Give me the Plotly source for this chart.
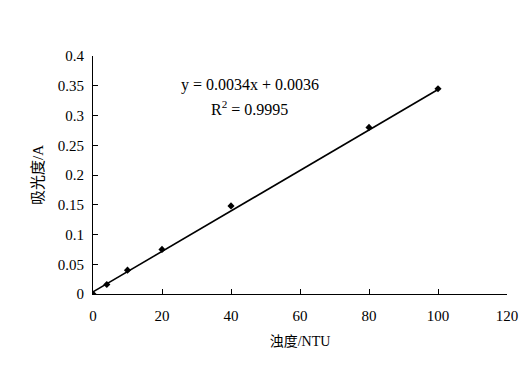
import plotly.graph_objects as go

turbidity = [0, 4, 10, 20, 40, 80, 100]
absorbance = [0.0, 0.016, 0.040, 0.075, 0.148, 0.280, 0.345]
slope = 0.0034
intercept = 0.0036
r2 = 0.9995
x_ticks = [0, 20, 40, 60, 80, 100, 120]
y_ticks = [0, 0.05, 0.1, 0.15, 0.2, 0.25, 0.3, 0.35, 0.4]

font_fam = "Liberation Serif, Noto Sans CJK SC, serif"

fit_x = [min(turbidity), max(turbidity)]
fit_y = [slope * v + intercept for v in fit_x]

fig = go.Figure()
fig.add_trace(go.Scatter(x=fit_x, y=fit_y, mode="lines",
                         line=dict(color="black", width=1.6), showlegend=False, hoverinfo="skip"))
fig.add_trace(go.Scatter(x=turbidity, y=absorbance, mode="markers",
                         marker=dict(symbol="diamond", size=5.5, color="black"),
                         showlegend=False))

fig.add_annotation(x=0.379, y=0.878, xref="paper", yref="paper",
                   xanchor="center", yanchor="middle",
                   text=f"y = {slope}x + {intercept}",
                   showarrow=False, font=dict(family=font_fam, size=16, color="black"))
fig.add_annotation(x=0.377, y=0.782, xref="paper", yref="paper",
                   xanchor="center", yanchor="middle",
                   text=f"R<sup>2</sup> = {r2}",
                   showarrow=False, font=dict(family=font_fam, size=16, color="black"))

fig.update_layout(
    width=529, height=379,
    margin=dict(l=85, r=30, t=48, b=93),
    paper_bgcolor="white", plot_bgcolor="white",
    font=dict(family=font_fam, size=15, color="black"),
    xaxis=dict(range=[0, 120], tickvals=x_ticks, ticks="inside", ticklen=5,
               tickcolor="black", showline=True, linecolor="black", linewidth=1,
               showgrid=False, zeroline=False, tickfont=dict(size=15),
               ticklabelstandoff=8,
               title=dict(text="浊度/NTU", font=dict(size=14), standoff=13)),
    yaxis=dict(range=[0, 0.4], tickvals=y_ticks, ticks="inside", ticklen=5,
               tickcolor="black", showline=True, linecolor="black", linewidth=1,
               showgrid=False, zeroline=False, tickfont=dict(size=15),
               ticklabelstandoff=5,
               title=dict(text="吸光度/A", font=dict(size=15), standoff=10)),
)

fig.write_html("out.html")
